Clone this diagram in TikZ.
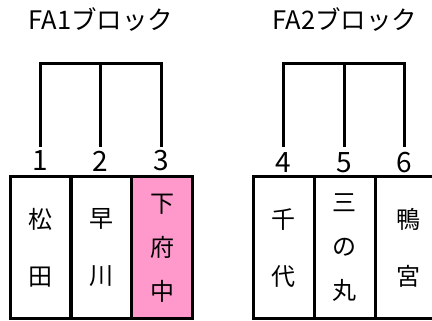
\documentclass[tikz,border=0pt]{standalone}
\usepackage{fontspec}
\newfontfamily\jpfont{Noto Sans CJK JP}
\definecolor{cellpink}{HTML}{FF99CC}
\tikzset{
  cell/.style={draw=black, line width=3pt, minimum width=61pt, minimum height=142.3pt,
    inner sep=0pt, align=center, anchor=center},
  two/.style={font=\jpfont\fontsize{24}{57}\selectfont},
  three/.style={font=\jpfont\fontsize{24}{44}\selectfont},
  num/.style={font=\jpfont\fontsize{28}{28}\selectfont, inner sep=0pt},
  title/.style={font=\jpfont\fontsize{25.5}{25.5}\selectfont, inner sep=0pt},
  bracket/.style={line width=3pt, line cap=butt, line join=miter},
}
\begin{document}
\begin{tikzpicture}[x=1pt,y=-1pt]
\useasboundingbox (0,0) rectangle (432,321);
% titles
\node[title] (t1) at (101,20) {FA1ブロック};
\node[title] (t2) at (345,20) {FA2ブロック};
% cells
\node[cell, two] (c1) at (40.5,247.8) {松\\田};
\node[cell, two] (c2) at (101,247.8) {早\\川};
\node[cell, three, fill=cellpink] (c3) at (162,247.8) {下\\府\\中};
\node[cell, two] (c4) at (283.5,247.8) {千\\代};
\node[cell, three] (c5) at (344.5,247.8) {三\\の\\丸};
\node[cell, two, minimum width=66pt] (c6) at (408,247.8) {鴨\\宮};
% numbers
\node[num] (n1) at (40,161) {1};
\node[num] (n2) at (100.5,161) {2};
\node[num] (n3) at (161.5,161) {3};
\node[num] (n4) at (283.7,163) {4};
\node[num] (n5) at (344.3,163) {5};
\node[num] (n6) at (404.3,163) {6};
% bracket tops
\coordinate (b1) at (40,63.3);
\coordinate (b2) at (100.5,63.3);
\coordinate (b3) at (161.5,63.3);
\coordinate (b4) at (283.7,63.3);
\coordinate (b5) at (344.3,63.3);
\coordinate (b6) at (404.3,63.3);
\coordinate (e1) at (40,147);
\coordinate (e2) at (100.5,147);
\coordinate (e3) at (161.5,147);
\coordinate (e4) at (283.7,147);
\coordinate (e5) at (344.3,147);
\coordinate (e6) at (404.3,147);
\draw[bracket] (e1) -- (b1) -- (b3) -- (e3);
\draw[bracket] (b2) -- (e2);
\draw[bracket] (e4) -- (b4) -- (b6) -- (e6);
\draw[bracket] (b5) -- (e5);
\end{tikzpicture}
\end{document}
